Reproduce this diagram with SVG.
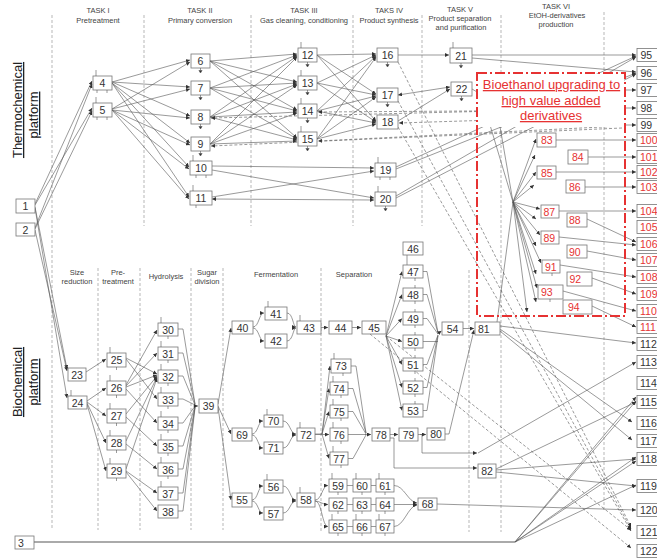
<svg xmlns="http://www.w3.org/2000/svg" width="657" height="560" viewBox="0 0 657 560">
<defs>
<marker id="a" viewBox="0 0 6 6" refX="6" refY="3" markerWidth="4" markerHeight="4" orient="auto-start-reverse" markerUnits="userSpaceOnUse"><path d="M0,0 L6,3 L0,6 z" fill="#333"/></marker>
<path id="ts" d="M0,-6V0" class="st"/>
<path id="tt" d="M0,-3V0" class="st"/>
<path id="bt" d="M0,0V3" class="st"/>
<path id="ba" d="M0,0V2.5M-1.6,2.5H1.6L0,5Z" class="sa"/>
</defs>
<style>
.b{fill:#fff;stroke:#777;stroke-width:0.8}
.t{font-family:"Liberation Sans",Arial,sans-serif;font-size:10.5px;fill:#333;text-anchor:middle}
.o{text-anchor:start}
.r{fill:#e63232}
.c line,.c path{fill:none;stroke:#555;stroke-width:0.6;marker-end:url(#a)}
.c .nm{marker-end:none}
.c .d{stroke-dasharray:3,2}
.g line{stroke:#888;stroke-width:0.6;stroke-dasharray:3,2}
.h{font-family:"Liberation Sans",Arial,sans-serif;font-size:7.5px;fill:#444;text-anchor:middle}
.st{fill:none;stroke:#555;stroke-width:0.6}
.sa{fill:#333;stroke:#555;stroke-width:0.6}
.p{font-family:"Liberation Sans",Arial,sans-serif;font-size:13px;fill:#222;text-anchor:middle;text-decoration:underline}
</style>
<rect width="657" height="560" fill="#fff"/>
<g id="grid" class="g">
<line x1="52" y1="15" x2="52" y2="530"/>
<line x1="144" y1="15" x2="144" y2="226"/>
<line x1="251" y1="15" x2="251" y2="226"/>
<line x1="353" y1="15" x2="353" y2="226"/>
<line x1="422" y1="15" x2="422" y2="226"/>
<line x1="501" y1="15" x2="501" y2="532"/>
<line x1="604" y1="12" x2="604" y2="512"/>
<line x1="98" y1="268" x2="98" y2="530"/>
<line x1="140" y1="268" x2="140" y2="530"/>
<line x1="191" y1="268" x2="191" y2="530"/>
<line x1="223" y1="268" x2="223" y2="530"/>
<line x1="321" y1="268" x2="321" y2="532"/>
<line x1="469" y1="270" x2="469" y2="532"/>
</g>
<g id="headers">
<text class="h" x="98" y="13">TASK I</text><text class="h" x="98" y="23">Pretreatment</text>
<text class="h" x="200" y="13">TASK II</text><text class="h" x="200" y="23">Primary conversion</text>
<text class="h" x="304" y="13">TASK III</text><text class="h" x="304" y="23">Gas cleaning, conditioning</text>
<text class="h" x="389" y="13">TAKS IV</text><text class="h" x="389" y="23">Product synthesis</text>
<text class="h" x="460" y="12">TASK V</text><text class="h" x="460" y="21">Product separation</text><text class="h" x="461" y="30">and purification</text>
<text class="h r" x="556" y="9">TASK VI</text><text class="h r" x="557" y="18">EtOH-derivatives</text><text class="h r" x="556" y="27">production</text>
<text class="h" x="77" y="275">Size</text><text class="h" x="77" y="284">reduction</text>
<text class="h" x="118" y="275">Pre-</text><text class="h" x="118" y="284">treatment</text>
<text class="h" x="166" y="279">Hydrolysis</text>
<text class="h" x="207" y="275">Sugar</text><text class="h" x="207" y="284">division</text>
<text class="h" x="276" y="277">Fermentation</text>
<text class="h" x="354" y="277">Separation</text>
<text class="p" transform="translate(22,110) rotate(-90)">Thermochemical</text>
<text class="p" transform="translate(38,115) rotate(-90)">platform</text>
<text class="p" transform="translate(22,382) rotate(-90)">Biochemical</text>
<text class="p" transform="translate(38,382) rotate(-90)">platform</text>
</g>
<g id="connectors" class="c">
<line x1="35" y1="204" x2="92" y2="81"/>
<line x1="35" y1="205" x2="92" y2="108"/>
<line x1="35" y1="228" x2="92" y2="84"/>
<line x1="35" y1="229" x2="92" y2="111"/>
<line x1="35" y1="207" x2="67" y2="369"/>
<line x1="35" y1="230" x2="67" y2="371"/>
<line x1="35" y1="208" x2="67" y2="398"/>
<line x1="112" y1="82" x2="190" y2="60"/>
<line x1="112" y1="82" x2="190" y2="87"/>
<line x1="112" y1="82" x2="190" y2="116"/>
<line x1="112" y1="83" x2="190" y2="143"/>
<line x1="112" y1="83" x2="189" y2="167"/>
<line x1="112" y1="83" x2="189" y2="197"/>
<line x1="112" y1="109" x2="190" y2="62"/>
<line x1="112" y1="109" x2="190" y2="89"/>
<line x1="112" y1="110" x2="190" y2="118"/>
<line x1="112" y1="110" x2="190" y2="145"/>
<line x1="112" y1="110" x2="189" y2="169"/>
<line x1="112" y1="110" x2="189" y2="199"/>
<line x1="210" y1="61" x2="297" y2="54"/>
<line x1="210" y1="61" x2="297" y2="82"/>
<line x1="210" y1="61" x2="297" y2="110"/>
<line x1="210" y1="61" x2="297" y2="138"/>
<line x1="210" y1="88" x2="297" y2="55"/>
<line x1="210" y1="88" x2="297" y2="83"/>
<line x1="210" y1="88" x2="297" y2="111"/>
<line x1="210" y1="88" x2="297" y2="139"/>
<line x1="210" y1="117" x2="297" y2="56"/>
<line x1="210" y1="117" x2="297" y2="84"/>
<line x1="210" y1="117" x2="297" y2="112"/>
<line x1="210" y1="117" x2="297" y2="140"/>
<line x1="210" y1="144" x2="297" y2="57"/>
<line x1="210" y1="144" x2="297" y2="85"/>
<line x1="210" y1="144" x2="297" y2="113"/>
<line x1="210" y1="144" x2="297" y2="141"/>
<line x1="317" y1="55" x2="376" y2="54"/>
<line x1="317" y1="55" x2="376" y2="94"/>
<line x1="317" y1="55" x2="376" y2="121"/>
<line x1="317" y1="83" x2="376" y2="55"/>
<line x1="317" y1="83" x2="376" y2="95"/>
<line x1="317" y1="83" x2="376" y2="122"/>
<line x1="317" y1="111" x2="376" y2="56"/>
<line x1="317" y1="111" x2="376" y2="96"/>
<line x1="317" y1="111" x2="376" y2="123"/>
<line x1="317" y1="139" x2="376" y2="57"/>
<line x1="317" y1="139" x2="376" y2="97"/>
<line x1="317" y1="139" x2="376" y2="124"/>
<line x1="212" y1="166" x2="374" y2="168"/>
<line x1="212" y1="170" x2="374" y2="198"/>
<line x1="212" y1="197" x2="374" y2="171"/>
<line x1="212" y1="199" x2="374" y2="200" marker-start="url(#a)"/>
<line x1="398" y1="55" x2="449" y2="55"/>
<line x1="398" y1="95" x2="450" y2="87" marker-start="url(#a)"/>
<line x1="398" y1="121" x2="450" y2="89"/>
<line x1="472" y1="55" x2="636" y2="55"/>
<line x1="472" y1="58" x2="636" y2="72"/>
<path class="nm" d="M472,89 L484,96"/>
<line x1="396" y1="167" x2="636" y2="56"/>
<line x1="396" y1="169" x2="636" y2="73"/>
<line x1="396" y1="196" x2="636" y2="57"/>
<line x1="396" y1="198" x2="636" y2="74"/>
<line class="d" x1="622" y1="108" x2="211" y2="118"/>
<line class="d" x1="622" y1="110" x2="318" y2="112"/>
<line class="d" x1="622" y1="116" x2="399" y2="123"/>
<line class="d" x1="622" y1="126" x2="318" y2="141"/>
<line class="d" x1="622" y1="128" x2="211" y2="146"/>
<line x1="625" y1="90" x2="636" y2="90"/>
<line x1="625" y1="108" x2="636" y2="108"/>
<line x1="625" y1="125" x2="636" y2="125"/>
<line class="d" x1="398" y1="62" x2="631" y2="527"/>
<line class="d" x1="398" y1="101" x2="631" y2="529"/>
<line class="d" x1="398" y1="127" x2="631" y2="531"/>
<line x1="513" y1="202" x2="536" y2="139"/>
<line x1="513" y1="202" x2="535" y2="155"/>
<line x1="513" y1="202" x2="536" y2="172"/>
<line x1="513" y1="202" x2="534" y2="185"/>
<line x1="513" y1="202" x2="540" y2="209"/>
<line x1="513" y1="202" x2="536" y2="219"/>
<line x1="513" y1="202" x2="540" y2="235"/>
<line x1="513" y1="202" x2="536" y2="246"/>
<line x1="513" y1="202" x2="541" y2="263"/>
<line x1="513" y1="202" x2="536" y2="274"/>
<line x1="513" y1="202" x2="537" y2="288"/>
<line x1="513" y1="202" x2="536" y2="302"/>
<line x1="513" y1="202" x2="527" y2="312"/>
<line class="nm" x1="497" y1="322" x2="513" y2="202"/>
<line class="nm" x1="513" y1="202" x2="487" y2="115"/>
<line class="nm" x1="513" y1="202" x2="498" y2="115"/>
<line x1="556" y1="140" x2="636" y2="140"/>
<line x1="588" y1="157" x2="636" y2="157"/>
<line x1="556" y1="172" x2="636" y2="172"/>
<line x1="585" y1="187" x2="636" y2="187"/>
<line x1="559" y1="211" x2="636" y2="211"/>
<line x1="587" y1="219" x2="636" y2="242"/>
<line x1="559" y1="237" x2="636" y2="245"/>
<line x1="587" y1="251" x2="636" y2="260"/>
<line x1="560" y1="265" x2="636" y2="277"/>
<line x1="592" y1="278" x2="636" y2="294"/>
<line x1="563" y1="291" x2="636" y2="311"/>
<line x1="592" y1="306" x2="636" y2="327"/>
<line x1="500" y1="326" x2="636" y2="343"/>
<line x1="500" y1="329" x2="632" y2="422"/>
<line x1="500" y1="331" x2="632" y2="440"/>
<line x1="86" y1="372" x2="106" y2="359"/>
<line x1="87" y1="401" x2="106" y2="388"/>
<line x1="87" y1="402" x2="106" y2="416"/>
<line x1="87" y1="403" x2="106" y2="443"/>
<line x1="87" y1="404" x2="106" y2="471"/>
<line x1="126" y1="358" x2="157" y2="374"/>
<line x1="126" y1="359" x2="157" y2="399"/>
<line x1="126" y1="385" x2="157" y2="330"/>
<line x1="126" y1="386" x2="157" y2="353"/>
<line x1="126" y1="387" x2="157" y2="375"/>
<line x1="126" y1="389" x2="157" y2="423"/>
<line x1="126" y1="414" x2="157" y2="376"/>
<line x1="126" y1="417" x2="157" y2="446"/>
<line x1="126" y1="441" x2="157" y2="377"/>
<line x1="126" y1="444" x2="157" y2="469"/>
<line x1="126" y1="469" x2="157" y2="378"/>
<line x1="126" y1="471" x2="157" y2="493"/>
<line x1="126" y1="472" x2="157" y2="511"/>
<path class="nm" d="M178,329 H183 L195,404"/>
<path class="nm" d="M178,353 H183 L195,404"/>
<path class="nm" d="M178,376 H183 L195,405"/>
<path class="nm" d="M178,399 H183 L195,405"/>
<path class="nm" d="M178,423 H183 L195,406"/>
<path class="nm" d="M178,446 H183 L195,406"/>
<path class="nm" d="M178,469 H183 L195,407"/>
<path class="nm" d="M178,493 H183 L195,407"/>
<path class="nm" d="M178,511 H183 L195,408"/>
<line x1="193" y1="406" x2="198" y2="406"/>
<line x1="218" y1="404" x2="231" y2="328"/>
<line x1="218" y1="406" x2="231" y2="434"/>
<line x1="218" y1="407" x2="231" y2="500"/>
<path d="M253,327 C259,327 259,313 264,313"/>
<path d="M253,328 C259,328 259,341 264,341"/>
<path d="M287,313 C293,313 293,327 296,327"/>
<path d="M287,341 C293,341 293,328 296,328"/>
<line x1="321" y1="327.5" x2="328" y2="327.5"/>
<line x1="352" y1="327.5" x2="361" y2="327.5"/>
<line x1="386" y1="336" x2="402" y2="271.5"/>
<line x1="386" y1="336" x2="402" y2="294.5"/>
<line x1="386" y1="336" x2="402" y2="318.5"/>
<line x1="386" y1="336" x2="402" y2="341.5"/>
<line x1="386" y1="336" x2="402" y2="364.5"/>
<line x1="386" y1="336" x2="402" y2="387.5"/>
<line x1="386" y1="336" x2="402" y2="410.5"/>
<path class="nm" d="M407,255 V265"/>
<path class="nm" d="M423,271.5 H427 L438,333"/>
<path class="nm" d="M423,294.5 H427 L438,333"/>
<path class="nm" d="M423,318.5 H427 L438,334"/>
<path class="nm" d="M423,341.5 H438"/>
<path class="nm" d="M423,364.5 H427 L438,335"/>
<path class="nm" d="M423,387.5 H427 L438,335"/>
<path class="nm" d="M423,410.5 H427 L438,336"/>
<line x1="437" y1="334" x2="441.5" y2="331"/>
<line x1="463" y1="328.5" x2="474" y2="328.5"/>
<path d="M445,434 H449 L474,330"/>
<line class="d" x1="370" y1="334" x2="631" y2="548"/>
<line class="d" x1="386" y1="336" x2="631" y2="530"/>
<path d="M252,434 C258,434 258,421 263,421"/>
<path d="M252,435 C258,435 258,448 263,448"/>
<path d="M283,421 C290,421 290,434 296,434"/>
<path d="M283,448 C290,448 290,435 296,435"/>
<path d="M315,434 H322 L330,366"/>
<path d="M322,434 L329,388.5"/>
<path d="M322,434 L329,411.5"/>
<path d="M315,434.5 H329"/>
<path d="M322,434 L329,458.5"/>
<path class="nm" d="M351,366 H356 L366,433"/>
<path class="nm" d="M348,388.5 H353 L366,433"/>
<path class="nm" d="M348,411.5 H353 L366,434"/>
<path class="nm" d="M348,434.5 H366"/>
<path class="nm" d="M348,458.5 H353 L366,435"/>
<line x1="365" y1="434.5" x2="371" y2="434.5"/>
<line x1="390" y1="434.5" x2="398" y2="434.5"/>
<line x1="418" y1="434.5" x2="426" y2="434.5"/>
<path d="M390,438 H394 V468 H477"/>
<path d="M420,434.5 H422 V453 H477"/>
<line x1="478" y1="453" x2="636" y2="362"/>
<line x1="496" y1="469" x2="636" y2="402"/>
<line x1="496" y1="470" x2="636" y2="459"/>
<line x1="496" y1="472" x2="636" y2="486"/>
<path d="M252,500 C258,500 258,486 263,486"/>
<path d="M252,501 C258,501 258,513 263,513"/>
<path d="M283,486 C290,486 290,500 296,500"/>
<path d="M283,513 C290,513 290,501 296,501"/>
<path d="M315,500 C322,500 322,485.5 328,485.5"/>
<path d="M315,501 C320,501 322,504.5 328,504.5"/>
<path d="M315,501 C322,501 322,526.5 328,526.5"/>
<path class="nm" d="M347,485.5 H353 M371,485.5 H376 M347,504.5 H353 M371,504.5 H376 M347,526.5 H353 M371,526.5 H376"/>
<path d="M394,485.5 C404,485.5 408,502 417,503"/>
<path d="M394,504.5 H417"/>
<path d="M394,526.5 C404,526.5 408,506 417,505"/>
<line x1="437" y1="504" x2="636" y2="510"/>
<path class="nm" d="M34,542 H515" style="stroke:#aaa;stroke-width:1.8"/>
<line x1="515" y1="542" x2="636" y2="397"/>
<line x1="515" y1="542" x2="636" y2="401"/>
<line x1="515" y1="542" x2="636" y2="457"/>
<line x1="515" y1="542" x2="636" y2="461"/>
<line x1="515" y1="542" x2="636" y2="485"/>
</g>
<g id="etoh-frame">
<rect x="478" y="74" width="146" height="53" fill="#fff"/>
<rect x="477" y="73" width="148" height="243" fill="none" stroke="#e63232" stroke-width="2" stroke-dasharray="10,3,2,3"/>
<text x="551.5" y="89" font-family="Liberation Sans, Arial, sans-serif" font-size="13" fill="#e63232" text-anchor="middle" text-decoration="underline">Bioethanol upgrading to</text>
<text x="551" y="105" font-family="Liberation Sans, Arial, sans-serif" font-size="13" fill="#e63232" text-anchor="middle" text-decoration="underline">high value added</text>
<text x="551" y="120" font-family="Liberation Sans, Arial, sans-serif" font-size="13" fill="#e63232" text-anchor="middle" text-decoration="underline">derivatives</text>
</g>
<g id="n1"><rect class="b" x="16" y="199" width="19" height="14"/><text class="t" x="25.5" y="210">1</text></g>
<g id="n2"><rect class="b" x="16" y="223" width="19" height="13"/><text class="t" x="25.5" y="233.5">2</text></g>
<g id="n3"><rect class="b" x="15" y="536" width="19" height="13"/><text class="t o" x="18" y="546.5">3</text></g>
<g id="n4"><rect class="b" x="93" y="76" width="19" height="14"/><text class="t" x="102.5" y="87">4</text><use href="#ts" x="96" y="76"/><use href="#bt" x="97" y="90"/><use href="#bt" x="107" y="90"/></g>
<g id="n5"><rect class="b" x="93" y="103" width="19" height="14"/><text class="t" x="102.5" y="114">5</text><use href="#ts" x="96" y="103"/><use href="#bt" x="97" y="117"/><use href="#bt" x="107" y="117"/></g>
<g id="n6"><rect class="b" x="191" y="54" width="19" height="14"/><text class="t" x="200.5" y="65">6</text><use href="#ba" x="200.5" y="68"/></g>
<g id="n7"><rect class="b" x="191" y="81" width="19" height="14"/><text class="t" x="200.5" y="92">7</text><use href="#ba" x="200.5" y="95"/></g>
<g id="n8"><rect class="b" x="191" y="110" width="19" height="14"/><text class="t" x="200.5" y="121">8</text><use href="#ba" x="200.5" y="124"/></g>
<g id="n9"><rect class="b" x="191" y="137" width="19" height="14"/><text class="t" x="200.5" y="148">9</text><use href="#ba" x="200.5" y="151"/></g>
<g id="n10"><rect class="b" x="190" y="161" width="22" height="14"/><text class="t" x="201" y="172">10</text><use href="#ts" x="193" y="161"/><use href="#bt" x="196" y="175"/><use href="#bt" x="206" y="175"/></g>
<g id="n11"><rect class="b" x="190" y="191" width="22" height="14"/><text class="t" x="201" y="202">11</text><use href="#ts" x="193" y="191"/><use href="#bt" x="196" y="205"/></g>
<g id="n12"><rect class="b" x="298" y="48" width="19" height="14"/><text class="t" x="307.5" y="59">12</text><use href="#ts" x="301" y="48"/><use href="#ba" x="307.5" y="62"/></g>
<g id="n13"><rect class="b" x="298" y="76" width="19" height="14"/><text class="t" x="307.5" y="87">13</text><use href="#ts" x="301" y="76"/><use href="#ba" x="307.5" y="90"/></g>
<g id="n14"><rect class="b" x="298" y="104" width="19" height="14"/><text class="t" x="307.5" y="115">14</text><use href="#ts" x="301" y="104"/><use href="#ba" x="307.5" y="118"/></g>
<g id="n15"><rect class="b" x="298" y="132" width="19" height="14"/><text class="t" x="307.5" y="143">15</text><use href="#ts" x="301" y="132"/><use href="#ba" x="307.5" y="146"/></g>
<g id="n16"><rect class="b" x="377" y="48" width="21" height="14"/><text class="t" x="387.5" y="59">16</text><use href="#ba" x="387.5" y="62"/></g>
<g id="n17"><rect class="b" x="377" y="88" width="21" height="14"/><text class="t" x="387.5" y="99">17</text><use href="#ba" x="387.5" y="102"/></g>
<g id="n18"><rect class="b" x="377" y="115" width="21" height="14"/><text class="t" x="387.5" y="126">18</text></g>
<g id="n19"><rect class="b" x="375" y="163" width="21" height="14"/><text class="t" x="385.5" y="174">19</text><use href="#ts" x="378" y="163"/><use href="#bt" x="380" y="177"/><use href="#bt" x="390" y="177"/></g>
<g id="n20"><rect class="b" x="375" y="192" width="21" height="14"/><text class="t" x="385.5" y="203">20</text><use href="#ts" x="378" y="192"/><use href="#ba" x="385.5" y="206"/></g>
<g id="n21"><rect class="b" x="450" y="48" width="22" height="15"/><text class="t" x="461" y="59.5">21</text><use href="#ts" x="453" y="48"/><use href="#ba" x="461" y="63"/></g>
<g id="n22"><rect class="b" x="451" y="82" width="21" height="14"/><text class="t" x="461.5" y="93">22</text><use href="#ba" x="461.5" y="96"/></g>
<g id="n95"><rect class="b" x="637" y="48.5" width="24" height="13"/><text class="t o" x="640.5" y="59">95</text></g>
<g id="n96"><rect class="b" x="637" y="66.5" width="24" height="13"/><text class="t o" x="640.5" y="77">96</text></g>
<g id="n97"><rect class="b" x="637" y="83.5" width="24" height="13"/><text class="t o" x="640.5" y="94">97</text></g>
<g id="n98"><rect class="b" x="637" y="101.5" width="24" height="13"/><text class="t o" x="640.5" y="112">98</text></g>
<g id="n99"><rect class="b" x="637" y="118.5" width="24" height="13"/><text class="t o" x="640.5" y="129">99</text></g>
<g id="n100"><rect class="b" x="637" y="133.5" width="24" height="13"/><text class="t o r" x="640" y="144">100</text></g>
<g id="n101"><rect class="b" x="637" y="150.5" width="24" height="13"/><text class="t o r" x="640" y="161">101</text></g>
<g id="n102"><rect class="b" x="637" y="165.5" width="24" height="13"/><text class="t o r" x="640" y="176">102</text></g>
<g id="n103"><rect class="b" x="637" y="180.5" width="24" height="13"/><text class="t o r" x="640" y="191">103</text></g>
<g id="n104"><rect class="b" x="637" y="204.5" width="24" height="13"/><text class="t o r" x="640" y="215">104</text></g>
<g id="n105"><rect class="b" x="637" y="220.5" width="24" height="13"/><text class="t o r" x="640" y="231">105</text></g>
<g id="n106"><rect class="b" x="637" y="237.5" width="24" height="13"/><text class="t o r" x="640" y="248">106</text></g>
<g id="n107"><rect class="b" x="637" y="253.5" width="24" height="13"/><text class="t o r" x="640" y="264">107</text></g>
<g id="n108"><rect class="b" x="637" y="270.5" width="24" height="13"/><text class="t o r" x="640" y="281">108</text></g>
<g id="n109"><rect class="b" x="637" y="287.5" width="24" height="13"/><text class="t o r" x="640" y="298">109</text></g>
<g id="n110"><rect class="b" x="637" y="304.5" width="24" height="13"/><text class="t o r" x="640" y="315">110</text></g>
<g id="n111"><rect class="b" x="637" y="320.5" width="24" height="13"/><text class="t o r" x="640" y="331">111</text></g>
<g id="n112"><rect class="b" x="637" y="337.5" width="24" height="13"/><text class="t o" x="640" y="348">112</text></g>
<g id="n113"><rect class="b" x="637" y="355.5" width="24" height="13"/><text class="t o" x="640" y="366">113</text></g>
<g id="n114"><rect class="b" x="637" y="376.5" width="24" height="13"/><text class="t o" x="640" y="387">114</text></g>
<g id="n115"><rect class="b" x="637" y="395.5" width="24" height="13"/><text class="t o" x="640" y="406">115</text></g>
<g id="n116"><rect class="b" x="637" y="416.5" width="24" height="13"/><text class="t o" x="640" y="427">116</text></g>
<g id="n117"><rect class="b" x="637" y="434.5" width="24" height="13"/><text class="t o" x="640" y="445">117</text></g>
<g id="n118"><rect class="b" x="637" y="452.5" width="24" height="13"/><text class="t o" x="640" y="463">118</text></g>
<g id="n119"><rect class="b" x="637" y="479.5" width="24" height="13"/><text class="t o" x="640" y="490">119</text></g>
<g id="n120"><rect class="b" x="637" y="503.5" width="24" height="13"/><text class="t o" x="640" y="514">120</text></g>
<g id="n121"><rect class="b" x="637" y="525.5" width="24" height="13"/><text class="t o" x="640" y="536">121</text></g>
<g id="n122"><rect class="b" x="637" y="544.5" width="24" height="13"/><text class="t o" x="640" y="555">122</text></g>
<g id="n83"><rect class="b" x="537" y="133" width="19" height="14"/><text class="t o r" x="541" y="144">83</text></g>
<g id="n84"><rect class="b" x="568" y="150" width="20" height="14"/><text class="t o r" x="572" y="161">84</text></g>
<g id="n85"><rect class="b" x="537" y="166" width="19" height="13"/><text class="t o r" x="541" y="176.5">85</text></g>
<g id="n86"><rect class="b" x="566" y="180" width="19" height="13"/><text class="t o r" x="569" y="190.5">86</text></g>
<g id="n87"><rect class="b" x="541" y="205" width="18" height="13"/><text class="t o r" x="543.5" y="215.5">87</text></g>
<g id="n88"><rect class="b" x="567" y="213" width="20" height="14"/><text class="t o r" x="569" y="224">88</text></g>
<g id="n89"><rect class="b" x="541" y="231" width="18" height="13"/><text class="t o r" x="543.5" y="241.5">89</text></g>
<g id="n90"><rect class="b" x="567" y="245" width="20" height="13"/><text class="t o r" x="569" y="255.5">90</text></g>
<g id="n91"><rect class="b" x="542" y="260" width="18" height="13"/><text class="t o r" x="545" y="270.5">91</text><use href="#bt" x="552" y="273"/></g>
<g id="n92"><rect class="b" x="567" y="272" width="25" height="14"/><text class="t o r" x="569.5" y="283">92</text></g>
<g id="n93"><rect class="b" x="538" y="285" width="25" height="14"/><text class="t o r" x="541" y="296">93</text><use href="#bt" x="550" y="299"/></g>
<g id="n94"><rect class="b" x="563" y="300" width="29" height="14"/><text class="t o r" x="568" y="311">94</text></g>
<g id="n23"><rect class="b" x="68" y="368" width="18" height="13"/><text class="t" x="77" y="378.5">23</text></g>
<g id="n24"><rect class="b" x="68" y="396" width="19" height="13"/><text class="t" x="77.5" y="406.5">24</text><use href="#ts" x="71" y="396"/></g>
<g id="n25"><rect class="b" x="107" y="353" width="19" height="14"/><text class="t" x="116.5" y="364">25</text><use href="#ts" x="110" y="353"/><use href="#bt" x="116.5" y="367"/></g>
<g id="n26"><rect class="b" x="107" y="381" width="19" height="14"/><text class="t" x="116.5" y="392">26</text><use href="#ts" x="110" y="381"/><use href="#bt" x="116.5" y="395"/></g>
<g id="n27"><rect class="b" x="107" y="409" width="19" height="14"/><text class="t" x="116.5" y="420">27</text><use href="#ts" x="110" y="409"/><use href="#bt" x="116.5" y="423"/></g>
<g id="n28"><rect class="b" x="107" y="436" width="19" height="14"/><text class="t" x="116.5" y="447">28</text><use href="#ts" x="110" y="436"/><use href="#bt" x="116.5" y="450"/></g>
<g id="n29"><rect class="b" x="107" y="464" width="19" height="14"/><text class="t" x="116.5" y="475">29</text><use href="#ts" x="110" y="464"/><use href="#bt" x="116.5" y="478"/></g>
<g id="n30"><rect class="b" x="158" y="323" width="20" height="13"/><text class="t" x="168" y="333.5">30</text><use href="#ts" x="161" y="323"/><use href="#bt" x="168" y="336"/></g>
<g id="n31"><rect class="b" x="158" y="347" width="20" height="13"/><text class="t" x="168" y="357.5">31</text><use href="#ts" x="161" y="347"/><use href="#bt" x="168" y="360"/></g>
<g id="n32"><rect class="b" x="158" y="370" width="20" height="13"/><text class="t" x="168" y="380.5">32</text><use href="#ts" x="161" y="370"/><use href="#bt" x="168" y="383"/></g>
<g id="n33"><rect class="b" x="158" y="393" width="20" height="13"/><text class="t" x="168" y="403.5">33</text><use href="#ts" x="161" y="393"/><use href="#bt" x="168" y="406"/></g>
<g id="n34"><rect class="b" x="158" y="417" width="20" height="13"/><text class="t" x="168" y="427.5">34</text><use href="#ts" x="161" y="417"/><use href="#bt" x="168" y="430"/></g>
<g id="n35"><rect class="b" x="158" y="440" width="20" height="13"/><text class="t" x="168" y="450.5">35</text><use href="#ts" x="161" y="440"/><use href="#bt" x="168" y="453"/></g>
<g id="n36"><rect class="b" x="158" y="463" width="20" height="13"/><text class="t" x="168" y="473.5">36</text><use href="#ts" x="161" y="463"/><use href="#bt" x="168" y="476"/></g>
<g id="n37"><rect class="b" x="158" y="487" width="20" height="13"/><text class="t" x="168" y="497.5">37</text><use href="#ts" x="161" y="487"/></g>
<g id="n38"><rect class="b" x="158" y="505" width="20" height="13"/><text class="t" x="168" y="515.5">38</text></g>
<g id="n39"><rect class="b" x="199" y="399" width="19" height="14"/><text class="t" x="208.5" y="410">39</text></g>
<g id="n40"><rect class="b" x="232" y="321" width="21" height="13"/><text class="t" x="242.5" y="331.5">40</text></g>
<g id="n41"><rect class="b" x="265" y="307" width="22" height="13"/><text class="t" x="276" y="317.5">41</text><use href="#ts" x="268" y="307"/></g>
<g id="n42"><rect class="b" x="265" y="334" width="22" height="14"/><text class="t" x="276" y="345">42</text></g>
<g id="n43"><rect class="b" x="297" y="321" width="24" height="13"/><text class="t" x="309" y="331.5">43</text><use href="#ts" x="300" y="321"/></g>
<g id="n44"><rect class="b" x="329" y="321" width="23" height="13"/><text class="t" x="340.5" y="331.5">44</text></g>
<g id="n45"><rect class="b" x="362" y="321" width="24" height="13"/><text class="t" x="374" y="331.5">45</text></g>
<g id="n46"><rect class="b" x="403" y="242" width="20" height="13"/><text class="t" x="413" y="252.5">46</text></g>
<g id="n47"><rect class="b" x="403" y="265" width="20" height="13"/><text class="t" x="413" y="275.5">47</text><use href="#bt" x="415" y="278"/></g>
<g id="n48"><rect class="b" x="403" y="288" width="20" height="13"/><text class="t" x="413" y="298.5">48</text><use href="#tt" x="415" y="288"/><use href="#bt" x="415" y="301"/></g>
<g id="n49"><rect class="b" x="403" y="312" width="20" height="13"/><text class="t" x="413" y="322.5">49</text><use href="#tt" x="415" y="312"/><use href="#bt" x="415" y="325"/></g>
<g id="n50"><rect class="b" x="403" y="335" width="20" height="13"/><text class="t" x="413" y="345.5">50</text><use href="#tt" x="415" y="335"/><use href="#bt" x="415" y="348"/></g>
<g id="n51"><rect class="b" x="403" y="358" width="20" height="13"/><text class="t" x="413" y="368.5">51</text><use href="#tt" x="415" y="358"/><use href="#bt" x="415" y="371"/></g>
<g id="n52"><rect class="b" x="403" y="381" width="20" height="13"/><text class="t" x="413" y="391.5">52</text><use href="#tt" x="415" y="381"/><use href="#bt" x="415" y="394"/></g>
<g id="n53"><rect class="b" x="403" y="404" width="20" height="13"/><text class="t" x="413" y="414.5">53</text><use href="#tt" x="415" y="404"/></g>
<g id="n54"><rect class="b" x="442" y="322" width="21" height="13"/><text class="t" x="452.5" y="332.5">54</text></g>
<g id="n81"><rect class="b" x="475" y="322" width="25" height="13"/><text class="t o" x="478" y="332.5">81</text></g>
<g id="n69"><rect class="b" x="232" y="428" width="20" height="13"/><text class="t" x="242" y="438.5">69</text></g>
<g id="n70"><rect class="b" x="264" y="415" width="19" height="12"/><text class="t" x="273.5" y="425">70</text><use href="#ts" x="267" y="415"/></g>
<g id="n71"><rect class="b" x="264" y="442" width="19" height="12"/><text class="t" x="273.5" y="452">71</text></g>
<g id="n72"><rect class="b" x="297" y="428" width="18" height="13"/><text class="t" x="306" y="438.5">72</text><use href="#ts" x="300" y="428"/></g>
<g id="n73"><rect class="b" x="331" y="359" width="20" height="14"/><text class="t" x="341" y="370">73</text><use href="#ts" x="334" y="359"/><use href="#bt" x="343" y="373"/></g>
<g id="n74"><rect class="b" x="330" y="382" width="18" height="13"/><text class="t" x="339" y="392.5">74</text><use href="#ts" x="333" y="382"/><use href="#bt" x="341" y="395"/></g>
<g id="n75"><rect class="b" x="330" y="405" width="18" height="13"/><text class="t" x="339" y="415.5">75</text><use href="#ts" x="333" y="405"/><use href="#bt" x="341" y="418"/></g>
<g id="n76"><rect class="b" x="330" y="428" width="18" height="13"/><text class="t" x="339" y="438.5">76</text><use href="#ts" x="333" y="428"/><use href="#bt" x="341" y="441"/></g>
<g id="n77"><rect class="b" x="330" y="452" width="18" height="13"/><text class="t" x="339" y="462.5">77</text><use href="#ts" x="333" y="452"/><use href="#bt" x="341" y="465"/></g>
<g id="n78"><rect class="b" x="372" y="428" width="18" height="13"/><text class="t" x="381" y="438.5">78</text></g>
<g id="n79"><rect class="b" x="399" y="428" width="19" height="13"/><text class="t" x="408.5" y="438.5">79</text></g>
<g id="n80"><rect class="b" x="427" y="428" width="18" height="12"/><text class="t" x="436" y="438">80</text></g>
<g id="n82"><rect class="b" x="478" y="464" width="18" height="14"/><text class="t" x="487" y="475">82</text></g>
<g id="n55"><rect class="b" x="232" y="493" width="20" height="14"/><text class="t" x="242" y="504">55</text></g>
<g id="n56"><rect class="b" x="264" y="480" width="19" height="13"/><text class="t" x="273.5" y="490.5">56</text><use href="#ts" x="267" y="480"/></g>
<g id="n57"><rect class="b" x="264" y="507" width="19" height="13"/><text class="t" x="273.5" y="517.5">57</text></g>
<g id="n58"><rect class="b" x="297" y="493" width="18" height="14"/><text class="t" x="306" y="504">58</text><use href="#ts" x="300" y="493"/></g>
<g id="n59"><rect class="b" x="329" y="479" width="18" height="13"/><text class="t" x="338" y="489.5">59</text><use href="#ts" x="332" y="479"/><use href="#bt" x="338" y="492"/></g>
<g id="n60"><rect class="b" x="353" y="479" width="18" height="13"/><text class="t" x="362" y="489.5">60</text><use href="#ts" x="356" y="479"/><use href="#bt" x="362" y="492"/></g>
<g id="n61"><rect class="b" x="376" y="479" width="18" height="13"/><text class="t" x="385" y="489.5">61</text><use href="#ts" x="379" y="479"/><use href="#bt" x="385" y="492"/></g>
<g id="n62"><rect class="b" x="329" y="498" width="18" height="13"/><text class="t" x="338" y="508.5">62</text><use href="#bt" x="338" y="511"/></g>
<g id="n63"><rect class="b" x="353" y="498" width="18" height="13"/><text class="t" x="362" y="508.5">63</text><use href="#bt" x="362" y="511"/></g>
<g id="n64"><rect class="b" x="376" y="498" width="18" height="13"/><text class="t" x="385" y="508.5">64</text><use href="#bt" x="385" y="511"/></g>
<g id="n65"><rect class="b" x="329" y="520" width="18" height="13"/><text class="t" x="338" y="530.5">65</text><use href="#ts" x="332" y="520"/><use href="#bt" x="338" y="533"/></g>
<g id="n66"><rect class="b" x="353" y="520" width="18" height="13"/><text class="t" x="362" y="530.5">66</text><use href="#ts" x="356" y="520"/><use href="#bt" x="362" y="533"/></g>
<g id="n67"><rect class="b" x="376" y="520" width="18" height="13"/><text class="t" x="385" y="530.5">67</text><use href="#ts" x="379" y="520"/><use href="#bt" x="385" y="533"/></g>
<g id="n68"><rect class="b" x="418" y="498" width="19" height="12"/><text class="t" x="427.5" y="508">68</text></g>
</svg>
